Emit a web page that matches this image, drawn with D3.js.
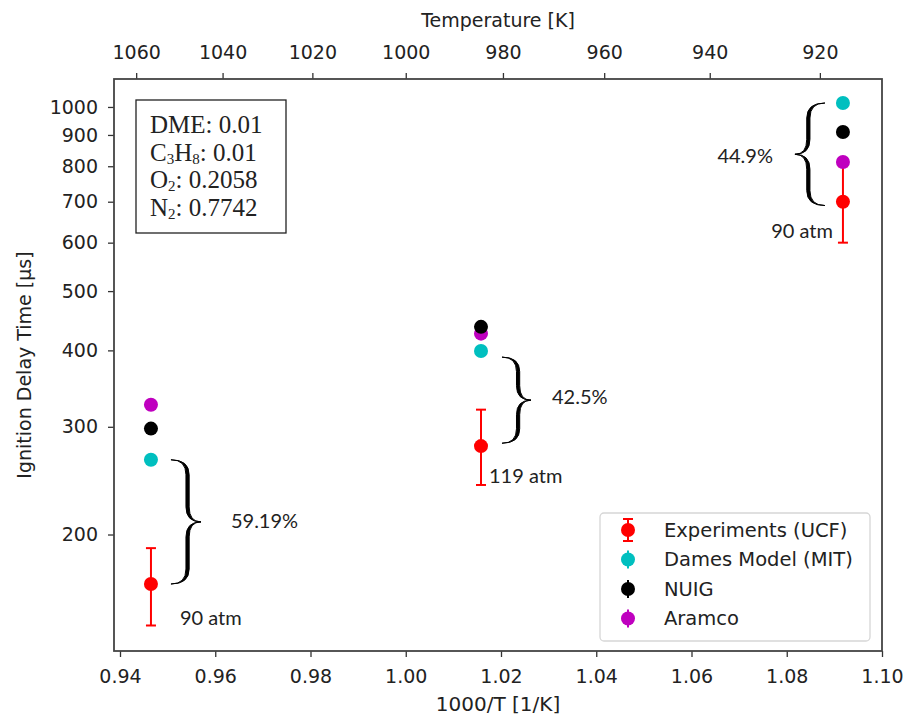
<!DOCTYPE html>
<html>
<head>
<meta charset="utf-8">
<script src="https://cdn.jsdelivr.net/npm/d3@7"></script>
<style>
  body { margin: 0; background: #fff; }
  svg text { fill: #222; }
</style>
</head>
<body>
<div id="chart"></div>
<script>
// data
const invT = [0.9465, 1.0158, 1.0918];
const experiments = [166, 279, 700];
const expLow = [142, 241, 600];
const expHigh = [190, 320, 800];
const dames = [265, 399, 1015];
const nuig = [298, 437, 910];
const aramco = [326, 426, 813];
const pressures = ["90 atm", "119 atm", "90 atm"];
const spreads = ["59.19%", "42.5%", "44.9%"];
const braceTop = [265, 390, 1015];
const braceBottom = [166, 282, 690];

const xTicks = [0.94, 0.96, 0.98, 1.00, 1.02, 1.04, 1.06, 1.08, 1.10];
const yTicks = [200, 300, 400, 500, 600, 700, 800, 900, 1000];
const tTicks = [1060, 1040, 1020, 1000, 980, 960, 940, 920];

const series = [
  { name: "Experiments (UCF)", color: "#ff0000", values: experiments, err: true },
  { name: "Dames Model (MIT)", color: "#00bfbf", values: dames },
  { name: "NUIG", color: "#000000", values: nuig },
  { name: "Aramco", color: "#bf00bf", values: aramco }
];

const W = 904, H = 717;
const m = { left: 114, right: 22, top: 79, bottom: 66 };

const svg = d3.select("#chart").append("svg")
  .attr("width", W).attr("height", H);

const x = d3.scaleLinear().domain([0.93874, 1.10]).range([m.left, W - m.right]);
const y = d3.scaleLog().domain([129, 1111]).range([H - m.bottom, m.top]);

const font = "DejaVu Sans, sans-serif";

// bottom axis
const xAxis = svg.append("g")
  .attr("transform", `translate(0,${H - m.bottom})`)
  .call(d3.axisBottom(x).tickValues(xTicks).tickFormat(d3.format(".2f")).tickSize(6).tickPadding(13));
// left axis
const yAxis = svg.append("g")
  .attr("transform", `translate(${m.left},0)`)
  .call(d3.axisLeft(y).tickValues(yTicks).tickFormat(d3.format("d")).tickSize(6).tickPadding(10));
// top axis (temperature)
const tAxis = svg.append("g")
  .attr("transform", `translate(0,${m.top})`)
  .call(d3.axisTop(x).tickValues(tTicks.map(t => 1000 / t)).tickFormat((d, i) => tTicks[i]).tickSize(6).tickPadding(14));

[xAxis, yAxis, tAxis].forEach(g => {
  g.select(".domain").remove();
  g.selectAll(".tick line").attr("stroke", "#333").attr("stroke-width", 1.3);
  g.selectAll(".tick text").attr("font-family", font).attr("font-size", 19).attr("fill", "#222");
});

// frame
svg.append("rect")
  .attr("x", m.left).attr("y", m.top)
  .attr("width", W - m.right - m.left).attr("height", H - m.bottom - m.top)
  .attr("fill", "none").attr("stroke", "#444").attr("stroke-width", 1.8);

// axis titles
svg.append("text")
  .attr("x", (m.left + W - m.right) / 2).attr("y", 711)
  .attr("text-anchor", "middle").attr("font-family", font).attr("font-size", 20)
  .text("1000/T [1/K]");
svg.append("text")
  .attr("x", (m.left + W - m.right) / 2).attr("y", 27)
  .attr("text-anchor", "middle").attr("font-family", font).attr("font-size", 19)
  .text("Temperature [K]");
svg.append("text")
  .attr("transform", `translate(31,${(m.top + H - m.bottom) / 2}) rotate(-90)`)
  .attr("text-anchor", "middle").attr("font-family", font).attr("font-size", 19)
  .text("Ignition Delay Time [µs]");

// error bars
const plot = svg.append("g");
const cap = 5;
invT.forEach((v, i) => {
  const g = plot.append("g").attr("stroke", "#ff0000").attr("stroke-width", 2);
  g.append("line").attr("x1", x(v)).attr("x2", x(v)).attr("y1", y(expLow[i])).attr("y2", y(expHigh[i]));
  g.append("line").attr("x1", x(v) - cap).attr("x2", x(v) + cap).attr("y1", y(expLow[i])).attr("y2", y(expLow[i]));
  g.append("line").attr("x1", x(v) - cap).attr("x2", x(v) + cap).attr("y1", y(expHigh[i])).attr("y2", y(expHigh[i]));
});

// points (draw models first then experiments on top)
[series[1], series[3], series[2], series[0]].forEach(s => {
  plot.selectAll(null)
    .data(s.values)
    .enter()
    .append("circle")
    .attr("cx", (d, i) => x(invT[i]))
    .attr("cy", d => y(d))
    .attr("r", 7)
    .attr("fill", s.color);
});

// curly braces, filled so the middle of each arm is thicker like a serif glyph
function bracePath(x0, y0, y1, w) {
  const s = Math.sign(w), h = w / 2, r = Math.abs(w) / 2, mid = (y0 + y1) / 2;
  const h2 = h + s * 3.2;
  return `M${x0},${y0} Q${x0 + h},${y0} ${x0 + h},${y0 + r} L${x0 + h},${mid - r} ` +
         `Q${x0 + h},${mid} ${x0 + w},${mid} Q${x0 + h},${mid} ${x0 + h},${mid + r} ` +
         `L${x0 + h},${y1 - r} Q${x0 + h},${y1} ${x0},${y1} ` +
         `Q${x0 + h2},${y1} ${x0 + h2},${y1 - r} L${x0 + h2},${mid + r} ` +
         `Q${x0 + h2},${mid} ${x0 + w},${mid} Q${x0 + h2},${mid} ${x0 + h2},${mid - r} ` +
         `L${x0 + h2},${y0 + r} Q${x0 + h2},${y0} ${x0},${y0} Z`;
}
const braceCfg = [
  { dx: 20, w: 30, tx: 30, anchor: "start", ly: 6, adx: 29, ady: 0, aanchor: "start" },
  { dx: 21, w: 29, tx: 21, anchor: "start", ly: 4, adx: 8, ady: -2, aanchor: "start" },
  { dx: -18, w: -30, tx: -22, anchor: "end", ly: 9, adx: -10, ady: -5, aanchor: "end" }
];
invT.forEach((v, i) => {
  const c = braceCfg[i];
  const bx = x(v) + c.dx, y0 = y(braceTop[i]), y1 = y(braceBottom[i]);
  plot.append("path")
    .attr("d", bracePath(bx, y0, y1, c.w))
    .attr("fill", "#000").attr("stroke", "#000").attr("stroke-width", 1)
    .attr("stroke-linejoin", "round");
  plot.append("text")
    .attr("x", bx + c.w + c.tx).attr("y", (y0 + y1) / 2 + c.ly)
    .attr("text-anchor", c.anchor)
    .attr("font-family", "Lato, sans-serif").attr("font-size", 20)
    .text(spreads[i]);
  plot.append("text")
    .attr("x", x(v) + c.adx).attr("y", y(expLow[i]) + c.ady)
    .attr("text-anchor", c.aanchor)
    .attr("font-family", "Lato, sans-serif").attr("font-size", 20)
    .text(pressures[i]);
});

// mixture box
const box = svg.append("g");
box.append("rect")
  .attr("x", 136).attr("y", 100).attr("width", 150).attr("height", 133)
  .attr("fill", "#fff").attr("stroke", "#222").attr("stroke-width", 1.3);
const mix = [
  [["DME", 0], [": 0.01", 0]],
  [["C", 0], ["3", 1], ["H", 0], ["8", 1], [": 0.01", 0]],
  [["O", 0], ["2", 1], [": 0.2058", 0]],
  [["N", 0], ["2", 1], [": 0.7742", 0]]
];
mix.forEach((parts, i) => {
  const t = box.append("text")
    .attr("x", 150).attr("y", 133 + i * 27.5)
    .attr("font-family", "Liberation Serif, Times New Roman, serif")
    .attr("font-size", 25);
  let shift = 0;
  parts.forEach(([s, sub]) => {
    const target = sub ? 3 : 0;
    t.append("tspan")
      .attr("font-size", sub ? 15 : 25)
      .attr("dy", target - shift)
      .text(s);
    shift = target;
  });
});

// legend
const lg = svg.append("g").attr("transform", "translate(600,513)");
lg.append("rect")
  .attr("width", 270).attr("height", 128).attr("rx", 4)
  .attr("fill", "#fff").attr("stroke", "#d6d6d6").attr("stroke-width", 1.3);
series.forEach((s, i) => {
  const cy = 17 + i * 29.5;
  const g = lg.append("g").attr("transform", `translate(28,${cy})`);
  const half = s.err ? 11 : 9;
  g.append("line").attr("y1", -half).attr("y2", half).attr("stroke", s.color).attr("stroke-width", 2);
  if (s.err) {
    g.append("line").attr("x1", -cap).attr("x2", cap).attr("y1", -half).attr("y2", -half).attr("stroke", s.color).attr("stroke-width", 2);
    g.append("line").attr("x1", -cap).attr("x2", cap).attr("y1", half).attr("y2", half).attr("stroke", s.color).attr("stroke-width", 2);
  }
  g.append("circle").attr("r", 7).attr("fill", s.color);
  lg.append("text")
    .attr("x", 64).attr("y", cy).attr("dy", "0.35em")
    .attr("font-family", font).attr("font-size", 19.5)
    .text(s.name);
});
</script>
</body>
</html>
